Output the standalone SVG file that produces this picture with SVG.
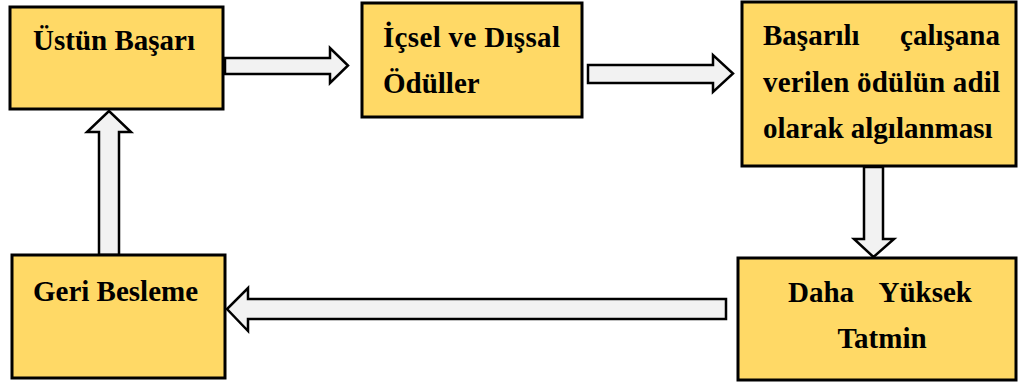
<svg xmlns="http://www.w3.org/2000/svg" width="1019" height="383" viewBox="0 0 1019 383">
<style>
.box{fill:#FFD966;stroke:#000;stroke-width:3}
.arr{fill:#F2F2F2;stroke:#000;stroke-width:2.5;stroke-linejoin:miter}
.t{font-family:"Liberation Serif","Times New Roman",serif;font-weight:bold;font-size:29px;fill:#000}
</style>
<rect width="1019" height="383" fill="#fff"/>
<g id="connectors">
<polygon class="arr" points="225,58 330,58 330,48 348,65.5 330,83 330,74 225,74"/>
<polygon class="arr" points="588,65 713,65 713,55 733,73.5 713,92 713,83 588,83"/>
<polygon class="arr" points="864,167 883,167 883,239 894,239 873.5,257 854,239 864,239"/>
<polygon class="arr" points="726,299 726,319 248,319 248,331 227,309 248,288 248,299"/>
<polygon class="arr" points="99,255 119,255 119,132 131,132 109,111 87,132 99,132"/>
</g>
<g id="node-ustun-basari">
<rect class="box" x="10" y="7" width="213" height="102"/>
<text class="t" x="33" y="50">Üstün Başarı</text>
</g>
<g id="node-icsel-dissal">
<rect class="box" x="362" y="3" width="220" height="114"/>
<text class="t" x="383" y="47" textLength="177" lengthAdjust="spacing">İçsel ve Dışsal</text>
<text class="t" x="383" y="93">Ödüller</text>
</g>
<g id="node-adil-algi">
<rect class="box" x="742" y="2" width="274" height="164"/>
<text class="t" x="763" y="45">Başarılı</text>
<text class="t" x="1000" y="45" text-anchor="end">çalışana</text>
<text class="t" x="763" y="92" textLength="237" lengthAdjust="spacing">verilen ödülün adil</text>
<text class="t" x="763" y="138">olarak algılanması</text>
</g>
<g id="node-daha-yuksek-tatmin">
<rect class="box" x="738" y="258" width="278" height="122"/>
<text class="t" x="788" y="302">Daha</text>
<text class="t" x="972" y="302" text-anchor="end">Yüksek</text>
<text class="t" x="882" y="348" text-anchor="middle">Tatmin</text>
</g>
<g id="node-geri-besleme">
<rect class="box" x="12" y="255" width="213" height="123"/>
<text class="t" x="33" y="301">Geri Besleme</text>
</g>
</svg>
